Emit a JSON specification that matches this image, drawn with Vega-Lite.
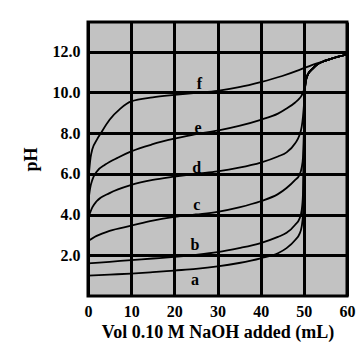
{
  "$schema": "https://vega.github.io/schema/vega-lite/v6.json",
  "width": 259,
  "height": 274,
  "autosize": {"type": "none"},
  "padding": {"left": 88, "top": 22, "right": 16, "bottom": 55},
  "background": "white",
  "config": {
    "view": {"fill": "#c2c2c2", "stroke": "black", "strokeWidth": 3},
    "font": "Liberation Serif",
    "axis": {
      "grid": true, "gridColor": "black", "gridWidth": 3, "gridOpacity": 1,
      "domain": false, "ticks": false,
      "labelFont": "Liberation Serif", "labelFontWeight": "bold", "labelFontSize": 16, "labelColor": "black",
      "titleFont": "Liberation Serif", "titleFontWeight": "bold", "titleFontSize": 18, "titleColor": "black"
    }
  },
  "datasets": {
    "curves": [
      {"curve":"a","ml":0,"ph":1.0},{"curve":"a","ml":5,"ph":1.05},{"curve":"a","ml":10,"ph":1.1},{"curve":"a","ml":15,"ph":1.17},{"curve":"a","ml":20,"ph":1.25},{"curve":"a","ml":25,"ph":1.33},{"curve":"a","ml":30,"ph":1.45},{"curve":"a","ml":35,"ph":1.62},{"curve":"a","ml":40,"ph":1.85},{"curve":"a","ml":44,"ph":2.1},{"curve":"a","ml":46,"ph":2.35},{"curve":"a","ml":48,"ph":2.75},{"curve":"a","ml":49,"ph":3.05},{"curve":"a","ml":49.5,"ph":3.4},{"curve":"a","ml":49.8,"ph":4.0},{"curve":"a","ml":50,"ph":7.0},{"curve":"a","ml":50.2,"ph":10.0},{"curve":"a","ml":50.5,"ph":10.6},{"curve":"a","ml":51,"ph":10.9},{"curve":"a","ml":52,"ph":11.15},{"curve":"a","ml":53,"ph":11.35},{"curve":"a","ml":55,"ph":11.55},{"curve":"a","ml":58,"ph":11.75},{"curve":"a","ml":60,"ph":11.85},
      {"curve":"b","ml":0,"ph":1.6},{"curve":"b","ml":5,"ph":1.68},{"curve":"b","ml":10,"ph":1.76},{"curve":"b","ml":15,"ph":1.84},{"curve":"b","ml":20,"ph":1.92},{"curve":"b","ml":25,"ph":2.02},{"curve":"b","ml":30,"ph":2.15},{"curve":"b","ml":35,"ph":2.35},{"curve":"b","ml":40,"ph":2.6},{"curve":"b","ml":44,"ph":2.9},{"curve":"b","ml":46,"ph":3.1},{"curve":"b","ml":48,"ph":3.5},{"curve":"b","ml":49,"ph":3.8},{"curve":"b","ml":49.5,"ph":4.2},{"curve":"b","ml":49.8,"ph":5.0},{"curve":"b","ml":50,"ph":7.2},{"curve":"b","ml":50.2,"ph":10.0},{"curve":"b","ml":50.5,"ph":10.6},{"curve":"b","ml":51,"ph":10.9},{"curve":"b","ml":52,"ph":11.15},{"curve":"b","ml":53,"ph":11.35},{"curve":"b","ml":55,"ph":11.55},{"curve":"b","ml":58,"ph":11.75},{"curve":"b","ml":60,"ph":11.85},
      {"curve":"c","ml":0,"ph":2.7},{"curve":"c","ml":2,"ph":2.95},{"curve":"c","ml":5,"ph":3.2},{"curve":"c","ml":10,"ph":3.45},{"curve":"c","ml":15,"ph":3.7},{"curve":"c","ml":20,"ph":3.88},{"curve":"c","ml":25,"ph":4.0},{"curve":"c","ml":30,"ph":4.13},{"curve":"c","ml":35,"ph":4.35},{"curve":"c","ml":40,"ph":4.65},{"curve":"c","ml":44,"ph":5.0},{"curve":"c","ml":46,"ph":5.3},{"curve":"c","ml":48,"ph":5.7},{"curve":"c","ml":49,"ph":5.95},{"curve":"c","ml":49.5,"ph":6.3},{"curve":"c","ml":49.8,"ph":6.8},{"curve":"c","ml":50,"ph":8.0},{"curve":"c","ml":50.2,"ph":10.0},{"curve":"c","ml":50.5,"ph":10.6},{"curve":"c","ml":51,"ph":10.9},{"curve":"c","ml":52,"ph":11.15},{"curve":"c","ml":53,"ph":11.35},{"curve":"c","ml":55,"ph":11.55},{"curve":"c","ml":58,"ph":11.75},{"curve":"c","ml":60,"ph":11.85},
      {"curve":"d","ml":0,"ph":3.8},{"curve":"d","ml":1,"ph":4.35},{"curve":"d","ml":2,"ph":4.65},{"curve":"d","ml":5,"ph":5.05},{"curve":"d","ml":10,"ph":5.45},{"curve":"d","ml":15,"ph":5.7},{"curve":"d","ml":20,"ph":5.86},{"curve":"d","ml":25,"ph":6.0},{"curve":"d","ml":30,"ph":6.12},{"curve":"d","ml":35,"ph":6.3},{"curve":"d","ml":40,"ph":6.55},{"curve":"d","ml":44,"ph":6.85},{"curve":"d","ml":46,"ph":7.05},{"curve":"d","ml":48,"ph":7.5},{"curve":"d","ml":49,"ph":7.9},{"curve":"d","ml":49.5,"ph":8.3},{"curve":"d","ml":49.8,"ph":8.8},{"curve":"d","ml":50,"ph":9.3},{"curve":"d","ml":50.2,"ph":10.0},{"curve":"d","ml":50.5,"ph":10.6},{"curve":"d","ml":51,"ph":10.9},{"curve":"d","ml":52,"ph":11.15},{"curve":"d","ml":53,"ph":11.35},{"curve":"d","ml":55,"ph":11.55},{"curve":"d","ml":58,"ph":11.75},{"curve":"d","ml":60,"ph":11.85},
      {"curve":"e","ml":0,"ph":4.5},{"curve":"e","ml":0.5,"ph":5.3},{"curve":"e","ml":1,"ph":5.7},{"curve":"e","ml":2,"ph":6.1},{"curve":"e","ml":4,"ph":6.45},{"curve":"e","ml":7,"ph":6.8},{"curve":"e","ml":10,"ph":7.1},{"curve":"e","ml":15,"ph":7.45},{"curve":"e","ml":20,"ph":7.72},{"curve":"e","ml":25,"ph":7.95},{"curve":"e","ml":30,"ph":8.12},{"curve":"e","ml":35,"ph":8.35},{"curve":"e","ml":40,"ph":8.65},{"curve":"e","ml":44,"ph":8.95},{"curve":"e","ml":46,"ph":9.2},{"curve":"e","ml":48,"ph":9.5},{"curve":"e","ml":49,"ph":9.7},{"curve":"e","ml":49.5,"ph":9.85},{"curve":"e","ml":50,"ph":10.1},{"curve":"e","ml":50.2,"ph":10.3},{"curve":"e","ml":50.5,"ph":10.6},{"curve":"e","ml":51,"ph":10.9},{"curve":"e","ml":52,"ph":11.15},{"curve":"e","ml":53,"ph":11.35},{"curve":"e","ml":55,"ph":11.55},{"curve":"e","ml":58,"ph":11.75},{"curve":"e","ml":60,"ph":11.85},
      {"curve":"f","ml":0,"ph":5.4},{"curve":"f","ml":0.3,"ph":6.2},{"curve":"f","ml":0.6,"ph":6.8},{"curve":"f","ml":1,"ph":7.2},{"curve":"f","ml":2,"ph":7.65},{"curve":"f","ml":3,"ph":8.0},{"curve":"f","ml":5,"ph":8.65},{"curve":"f","ml":7.5,"ph":9.2},{"curve":"f","ml":10,"ph":9.55},{"curve":"f","ml":15,"ph":9.75},{"curve":"f","ml":20,"ph":9.87},{"curve":"f","ml":25,"ph":9.97},{"curve":"f","ml":30,"ph":10.07},{"curve":"f","ml":35,"ph":10.25},{"curve":"f","ml":40,"ph":10.5},{"curve":"f","ml":45,"ph":10.8},{"curve":"f","ml":49,"ph":11.1},{"curve":"f","ml":52,"ph":11.35},{"curve":"f","ml":55,"ph":11.55},{"curve":"f","ml":58,"ph":11.75},{"curve":"f","ml":60,"ph":11.85}
    ],
    "labels": [
      {"t":"f","ml":25.8,"ph":10.4},
      {"t":"e","ml":25.5,"ph":8.25},
      {"t":"d","ml":25.2,"ph":6.3},
      {"t":"c","ml":25.2,"ph":4.45},
      {"t":"b","ml":24.8,"ph":2.5},
      {"t":"a","ml":24.8,"ph":0.8}
    ]
  },
  "layer": [
    {
      "data": {"name": "curves"},
      "mark": {"type": "line", "interpolate": "monotone", "color": "black", "strokeWidth": 1.8, "clip": true},
      "encoding": {
        "x": {"field": "ml", "type": "quantitative", "scale": {"domain": [0, 60], "nice": false},
          "axis": {"values": [0,10,20,30,40,50,60], "title": "Vol 0.10 M NaOH added (mL)", "labelPadding": 7, "titlePadding": 4, "labelFlush": false}},
        "y": {"field": "ph", "type": "quantitative", "scale": {"domain": [0, 13.45], "nice": false},
          "axis": {"values": [2,4,6,8,10,12], "format": ".1f", "title": "pH", "labelPadding": 8, "titlePadding": 12}},
        "detail": {"field": "curve"},
        "order": {"field": "ml", "type": "quantitative"}
      }
    },
    {
      "data": {"name": "labels"},
      "mark": {"type": "text", "font": "Liberation Serif", "fontWeight": "bold", "fontSize": 16, "color": "black"},
      "encoding": {
        "x": {"field": "ml", "type": "quantitative"},
        "y": {"field": "ph", "type": "quantitative"},
        "text": {"field": "t"}
      }
    }
  ]
}
